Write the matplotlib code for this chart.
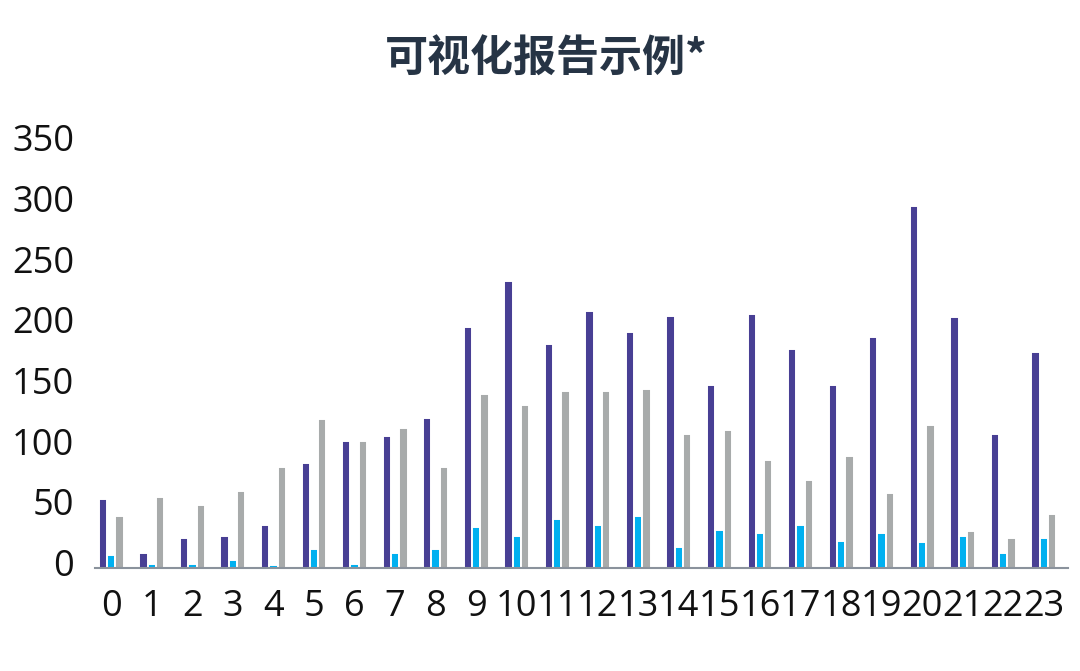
import numpy as np
import matplotlib.pyplot as plt
from matplotlib.transforms import ScaledTranslation

plt.rcParams['font.family'] = ['Open Sans', 'Noto Sans CJK SC', 'DejaVu Sans']

hours = [str(h) for h in range(24)]
series_a = [57, 13, 25, 27, 36, 87, 105, 109, 124, 199, 237, 185,
            212, 195, 208, 151, 210, 181, 151, 191, 299, 207, 111, 178]
series_b = [11, 4, 4, 7, 3, 16, 4, 13, 16, 34, 27, 41,
            36, 43, 18, 32, 29, 36, 23, 29, 22, 27, 13, 25]
series_c = [43, 59, 52, 64, 84, 123, 105, 116, 84, 144, 135, 146,
            146, 148, 111, 114, 89, 73, 93, 62, 118, 31, 25, 45]

colors = ['#483F94', '#00B0F0', '#A8ABAB']

fig = plt.figure(figsize=(10.8, 6.71), dpi=100)
ax = fig.add_axes([0.088, 0.1528, 0.901, 0.633])

x = np.arange(len(hours))
w = 0.205
for i, (vals, c) in enumerate(zip([series_a, series_b, series_c], colors)):
    ax.bar(x + (i - 1) * w, vals, width=w, color=c,
           edgecolor='white', linewidth=1.4)

ax.set_xlim(-0.4, 23.6)
ax.set_ylim(0, 350)
ax.set_yticks(range(0, 351, 50))
ax.set_xticks(x)
ax.set_xticklabels(hours)

for s in ['top', 'right', 'left']:
    ax.spines[s].set_visible(False)
ax.spines['bottom'].set_color('#8A929C')
ax.spines['bottom'].set_linewidth(1.5)

ax.tick_params(axis='both', length=0, labelsize=26, colors='#111111')
ax.tick_params(axis='y', pad=15)
ax.tick_params(axis='x', pad=15)

# y labels sit a little above their gridline in the original
shift = ScaledTranslation(0, 6 / 100, fig.dpi_scale_trans)
for lab in ax.get_yticklabels():
    lab.set_transform(lab.get_transform() + shift)

fig.text(0.506, 0.913, '可视化报告示例*', ha='center', va='center',
         fontsize=31, fontweight='bold', color='#263445',
         family=['Noto Sans CJK SC', 'DejaVu Sans'])

fig.savefig('out.png', dpi=100, facecolor='white')
